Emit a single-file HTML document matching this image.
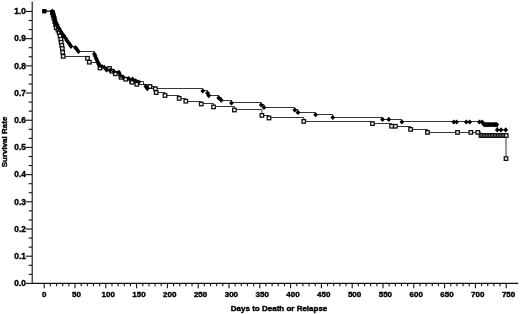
<!DOCTYPE html>
<html><head><meta charset="utf-8"><title>Survival Rate</title>
<style>html,body{margin:0;padding:0;background:#fff}svg{display:block}</style></head>
<body>
<svg width="520" height="314" viewBox="0 0 520 314">
<rect width="520" height="314" fill="#fff"/>
<g stroke="#111" stroke-width="1.1" fill="none">
<path d="M32.2 1.5 V283.4 H518.2"/>
<path d="M25.8 283.40 H32"/>
<path d="M28.7 274.33 H32"/>
<path d="M28.7 265.27 H32"/>
<path d="M25.8 256.20 H32"/>
<path d="M28.7 247.14 H32"/>
<path d="M28.7 238.07 H32"/>
<path d="M25.8 229.01 H32"/>
<path d="M28.7 219.94 H32"/>
<path d="M28.7 210.88 H32"/>
<path d="M25.8 201.81 H32"/>
<path d="M28.7 192.75 H32"/>
<path d="M28.7 183.69 H32"/>
<path d="M25.8 174.62 H32"/>
<path d="M28.7 165.55 H32"/>
<path d="M28.7 156.49 H32"/>
<path d="M25.8 147.42 H32"/>
<path d="M28.7 138.36 H32"/>
<path d="M28.7 129.29 H32"/>
<path d="M25.8 120.23 H32"/>
<path d="M28.7 111.16 H32"/>
<path d="M28.7 102.10 H32"/>
<path d="M25.8 93.03 H32"/>
<path d="M28.7 83.97 H32"/>
<path d="M28.7 74.91 H32"/>
<path d="M25.8 65.84 H32"/>
<path d="M28.7 56.77 H32"/>
<path d="M28.7 47.71 H32"/>
<path d="M25.8 38.64 H32"/>
<path d="M28.7 29.58 H32"/>
<path d="M28.7 20.51 H32"/>
<path d="M25.8 11.45 H32"/>
<path d="M44.20 283.4 V288.3"/>
<path d="M50.36 283.4 V286.2"/>
<path d="M56.52 283.4 V286.2"/>
<path d="M62.68 283.4 V286.2"/>
<path d="M68.84 283.4 V286.2"/>
<path d="M75.00 283.4 V288.3"/>
<path d="M81.16 283.4 V286.2"/>
<path d="M87.32 283.4 V286.2"/>
<path d="M93.48 283.4 V286.2"/>
<path d="M99.64 283.4 V286.2"/>
<path d="M105.80 283.4 V288.3"/>
<path d="M111.96 283.4 V286.2"/>
<path d="M118.12 283.4 V286.2"/>
<path d="M124.28 283.4 V286.2"/>
<path d="M130.44 283.4 V286.2"/>
<path d="M136.60 283.4 V288.3"/>
<path d="M142.76 283.4 V286.2"/>
<path d="M148.92 283.4 V286.2"/>
<path d="M155.08 283.4 V286.2"/>
<path d="M161.24 283.4 V286.2"/>
<path d="M167.40 283.4 V288.3"/>
<path d="M173.56 283.4 V286.2"/>
<path d="M179.72 283.4 V286.2"/>
<path d="M185.88 283.4 V286.2"/>
<path d="M192.04 283.4 V286.2"/>
<path d="M198.20 283.4 V288.3"/>
<path d="M204.36 283.4 V286.2"/>
<path d="M210.52 283.4 V286.2"/>
<path d="M216.68 283.4 V286.2"/>
<path d="M222.84 283.4 V286.2"/>
<path d="M229.00 283.4 V288.3"/>
<path d="M235.16 283.4 V286.2"/>
<path d="M241.32 283.4 V286.2"/>
<path d="M247.48 283.4 V286.2"/>
<path d="M253.64 283.4 V286.2"/>
<path d="M259.80 283.4 V288.3"/>
<path d="M265.96 283.4 V286.2"/>
<path d="M272.12 283.4 V286.2"/>
<path d="M278.28 283.4 V286.2"/>
<path d="M284.44 283.4 V286.2"/>
<path d="M290.60 283.4 V288.3"/>
<path d="M296.76 283.4 V286.2"/>
<path d="M302.92 283.4 V286.2"/>
<path d="M309.08 283.4 V286.2"/>
<path d="M315.24 283.4 V286.2"/>
<path d="M321.40 283.4 V288.3"/>
<path d="M327.56 283.4 V286.2"/>
<path d="M333.72 283.4 V286.2"/>
<path d="M339.88 283.4 V286.2"/>
<path d="M346.04 283.4 V286.2"/>
<path d="M352.20 283.4 V288.3"/>
<path d="M358.36 283.4 V286.2"/>
<path d="M364.52 283.4 V286.2"/>
<path d="M370.68 283.4 V286.2"/>
<path d="M376.84 283.4 V286.2"/>
<path d="M383.00 283.4 V288.3"/>
<path d="M389.16 283.4 V286.2"/>
<path d="M395.32 283.4 V286.2"/>
<path d="M401.48 283.4 V286.2"/>
<path d="M407.64 283.4 V286.2"/>
<path d="M413.80 283.4 V288.3"/>
<path d="M419.96 283.4 V286.2"/>
<path d="M426.12 283.4 V286.2"/>
<path d="M432.28 283.4 V286.2"/>
<path d="M438.44 283.4 V286.2"/>
<path d="M444.60 283.4 V288.3"/>
<path d="M450.76 283.4 V286.2"/>
<path d="M456.92 283.4 V286.2"/>
<path d="M463.08 283.4 V286.2"/>
<path d="M469.24 283.4 V286.2"/>
<path d="M475.40 283.4 V288.3"/>
<path d="M481.56 283.4 V286.2"/>
<path d="M487.72 283.4 V286.2"/>
<path d="M493.88 283.4 V286.2"/>
<path d="M500.04 283.4 V286.2"/>
<path d="M506.20 283.4 V288.3"/>
</g>
<g font-family="'Liberation Sans', Arial, Helvetica, sans-serif" font-weight="bold" font-size="8" fill="#000" stroke="#000" stroke-width="0.4" stroke-linejoin="round">
<text x="25.9" y="286.20" text-anchor="end" font-size="8.3">0.0</text>
<text x="25.9" y="259.00" text-anchor="end" font-size="8.3">0.1</text>
<text x="25.9" y="231.81" text-anchor="end" font-size="8.3">0.2</text>
<text x="25.9" y="204.62" text-anchor="end" font-size="8.3">0.3</text>
<text x="25.9" y="177.42" text-anchor="end" font-size="8.3">0.4</text>
<text x="25.9" y="150.22" text-anchor="end" font-size="8.3">0.5</text>
<text x="25.9" y="123.03" text-anchor="end" font-size="8.3">0.6</text>
<text x="25.9" y="95.83" text-anchor="end" font-size="8.3">0.7</text>
<text x="25.9" y="68.64" text-anchor="end" font-size="8.3">0.8</text>
<text x="25.9" y="41.45" text-anchor="end" font-size="8.3">0.9</text>
<text x="25.9" y="14.25" text-anchor="end" font-size="8.3">1.0</text>
<text x="44.30" y="297.2" text-anchor="middle">0</text>
<text x="76.40" y="297.2" text-anchor="middle">50</text>
<text x="108.20" y="297.2" text-anchor="middle">100</text>
<text x="139.00" y="297.2" text-anchor="middle">150</text>
<text x="169.80" y="297.2" text-anchor="middle">200</text>
<text x="200.60" y="297.2" text-anchor="middle">250</text>
<text x="231.40" y="297.2" text-anchor="middle">300</text>
<text x="262.20" y="297.2" text-anchor="middle">350</text>
<text x="293.00" y="297.2" text-anchor="middle">400</text>
<text x="323.80" y="297.2" text-anchor="middle">450</text>
<text x="354.60" y="297.2" text-anchor="middle">500</text>
<text x="385.40" y="297.2" text-anchor="middle">550</text>
<text x="416.20" y="297.2" text-anchor="middle">600</text>
<text x="447.00" y="297.2" text-anchor="middle">650</text>
<text x="477.80" y="297.2" text-anchor="middle">700</text>
<text x="508.60" y="297.2" text-anchor="middle">750</text>
<text x="279.1" y="311.2" text-anchor="middle">Days to Death or Relapse</text>
<text transform="translate(7.3 142) rotate(-90)" text-anchor="middle">Survival Rate</text>
</g>
<g stroke="#111" stroke-width="0.85" fill="none">
<path d="M44.3 11.2 H52.40 V12.50 H53.20 V15.50 H54.00 V18.50 H54.80 V21.50 H55.60 V24.50 H56.20 V27.50 H58.00 V30.50 H59.20 V32.50 H60.00 V35.50 H60.80 V39.50 H61.20 V42.50 H61.80 V45.50 H62.30 V48.50 H62.70 V52.50 H63.20 V56.50 H87.50 V58.50 H89.30 V62.50 H100.00 V67.50 H109.50 V68.50 H111.80 V71.50 H115.30 V73.50 H121.00 V77.50 H125.70 V79.50 H131.50 V81.50 H132.20 V82.50 H136.80 V84.50 H150.00 V86.50 H155.40 V88.50 H156.20 V92.50 H165.00 V95.50 H179.20 V98.50 H185.80 V101.50 H201.25 V103.50 H213.50 V106.50 H234.40 V109.50 H261.90 V115.50 H269.00 V117.50 H303.75 V121.50 H372.50 V123.50 H391.60 V126.50 H395.40 H410.60 V129.50 H427.50 V132.50 H457.50 H470.80 H477.80 H481.00 V135.50 H482.58 H484.16 H485.74 H487.32 H488.90 H490.48 H492.06 H493.64 H495.22 H496.80 H498.38 H499.96 H501.54 H503.12 H504.70 H506.28 H506.00 V158.50"/>
<path d="M44.3 11.2 H52.30 V11.50 H53.20 V13.50 H53.80 V15.50 H54.60 V17.50 H55.00 V19.50 H56.00 V22.50 H57.20 V24.50 H58.00 V26.50 H59.40 V28.50 H60.60 V31.50 H62.00 V33.50 H63.60 V35.50 H65.40 V37.50 H66.80 V40.50 H68.40 V42.50 H69.80 V44.50 H71.00 V46.50 H75.50 V47.50 H77.00 V49.50 H78.40 V51.50 H94.40 V53.50 H95.20 V55.50 H96.00 V57.50 H96.80 V59.50 H97.60 V61.50 H98.50 V63.50 H99.50 V65.50 H102.00 V66.50 H104.30 V67.50 H106.50 V69.50 H110.00 V70.50 H114.00 V71.50 H118.80 V72.50 H120.30 V75.50 H123.40 V77.50 H128.80 V78.50 H132.60 V79.50 H135.70 V80.50 H138.80 V81.50 H143.50 V84.50 H145.80 V86.50 H147.30 V88.50 H202.75 V90.50 H207.50 V92.50 H208.75 V95.50 H218.75 V97.50 H221.25 V100.50 H231.50 V102.50 H261.25 V104.50 H264.00 V107.50 H294.75 V109.50 H298.00 V112.50 H315.60 V114.50 H332.75 V117.50 H382.50 V119.50 H388.75 H401.90 V121.50 H453.75 H456.60 H466.25 H469.75 H479.40 H482.00 H484.00 V124.50 H485.16 H486.32 H487.48 H488.64 H489.80 H490.96 H492.12 H493.28 H494.44 H495.60 H496.76 H497.30 V129.50 H501.00 H505.70"/>
</g>
<g stroke="#111" stroke-width="1.3" fill="#fff">
<rect x="50.65" y="10.85" width="3.5" height="3.5" fill="#000"/>
<rect x="51.45" y="13.65" width="3.5" height="3.5" fill="#000"/>
<rect x="52.25" y="16.65" width="3.5" height="3.5" fill="#000"/>
<rect x="53.05" y="19.85" width="3.5" height="3.5" fill="#000"/>
<rect x="53.85" y="22.85" width="3.5" height="3.5" fill="#000"/>
<rect x="54.45" y="26.05" width="3.5" height="3.5"/>
<rect x="56.25" y="28.45" width="3.5" height="3.5"/>
<rect x="57.45" y="30.85" width="3.5" height="3.5"/>
<rect x="58.25" y="34.25" width="3.5" height="3.5"/>
<rect x="59.05" y="37.45" width="3.5" height="3.5"/>
<rect x="59.45" y="40.55" width="3.5" height="3.5"/>
<rect x="60.05" y="43.65" width="3.5" height="3.5"/>
<rect x="60.55" y="46.75" width="3.5" height="3.5"/>
<rect x="60.95" y="50.55" width="3.5" height="3.5"/>
<rect x="61.45" y="54.65" width="3.5" height="3.5"/>
<rect x="85.75" y="56.55" width="3.5" height="3.5"/>
<rect x="87.55" y="60.45" width="3.5" height="3.5"/>
<rect x="98.25" y="66.25" width="3.5" height="3.5"/>
<rect x="107.75" y="66.75" width="3.5" height="3.5"/>
<rect x="110.05" y="69.45" width="3.5" height="3.5"/>
<rect x="113.55" y="72.05" width="3.5" height="3.5"/>
<rect x="119.25" y="75.55" width="3.5" height="3.5"/>
<rect x="123.95" y="77.45" width="3.5" height="3.5"/>
<rect x="129.75" y="79.45" width="3.5" height="3.5"/>
<rect x="130.45" y="80.55" width="3.5" height="3.5"/>
<rect x="135.05" y="82.55" width="3.5" height="3.5"/>
<rect x="148.25" y="84.75" width="3.5" height="3.5"/>
<rect x="153.65" y="87.05" width="3.5" height="3.5"/>
<rect x="154.45" y="90.85" width="3.5" height="3.5"/>
<rect x="163.25" y="93.75" width="3.5" height="3.5"/>
<rect x="177.45" y="96.65" width="3.5" height="3.5"/>
<rect x="184.05" y="99.45" width="3.5" height="3.5"/>
<rect x="199.50" y="102.25" width="3.5" height="3.5"/>
<rect x="211.75" y="105.15" width="3.5" height="3.5"/>
<rect x="232.65" y="108.25" width="3.5" height="3.5"/>
<rect x="260.15" y="113.65" width="3.5" height="3.5"/>
<rect x="267.25" y="116.25" width="3.5" height="3.5"/>
<rect x="302.00" y="119.65" width="3.5" height="3.5"/>
<rect x="370.75" y="121.85" width="3.5" height="3.5"/>
<rect x="389.85" y="124.50" width="3.5" height="3.5"/>
<rect x="393.65" y="124.50" width="3.5" height="3.5"/>
<rect x="408.85" y="127.65" width="3.5" height="3.5"/>
<rect x="425.75" y="130.65" width="3.5" height="3.5"/>
<rect x="455.75" y="130.65" width="3.5" height="3.5"/>
<rect x="469.05" y="130.65" width="3.5" height="3.5"/>
<rect x="476.05" y="130.65" width="3.5" height="3.5"/>
<rect x="479.25" y="133.75" width="3.5" height="3.5"/>
<rect x="480.83" y="133.75" width="3.5" height="3.5"/>
<rect x="482.41" y="133.75" width="3.5" height="3.5"/>
<rect x="483.99" y="133.75" width="3.5" height="3.5"/>
<rect x="485.57" y="133.75" width="3.5" height="3.5"/>
<rect x="487.15" y="133.75" width="3.5" height="3.5"/>
<rect x="488.73" y="133.75" width="3.5" height="3.5"/>
<rect x="490.31" y="133.75" width="3.5" height="3.5"/>
<rect x="491.89" y="133.75" width="3.5" height="3.5"/>
<rect x="493.47" y="133.75" width="3.5" height="3.5"/>
<rect x="495.05" y="133.75" width="3.5" height="3.5"/>
<rect x="496.63" y="133.75" width="3.5" height="3.5"/>
<rect x="498.21" y="133.75" width="3.5" height="3.5"/>
<rect x="499.79" y="133.75" width="3.5" height="3.5"/>
<rect x="501.37" y="133.75" width="3.5" height="3.5"/>
<rect x="502.95" y="133.75" width="3.5" height="3.5"/>
<rect x="504.53" y="133.75" width="3.5" height="3.5"/>
<rect x="504.25" y="156.85" width="3.5" height="3.5"/>
</g>
<g fill="#000">
<path d="M49.90 11.20 L52.30 8.60 L54.70 11.20 L52.30 13.80Z"/>
<path d="M50.80 13.20 L53.20 10.60 L55.60 13.20 L53.20 15.80Z"/>
<path d="M51.40 15.60 L53.80 13.00 L56.20 15.60 L53.80 18.20Z"/>
<path d="M52.20 17.60 L54.60 15.00 L57.00 17.60 L54.60 20.20Z"/>
<path d="M52.60 20.00 L55.00 17.40 L57.40 20.00 L55.00 22.60Z"/>
<path d="M53.60 22.40 L56.00 19.80 L58.40 22.40 L56.00 25.00Z"/>
<path d="M54.80 24.60 L57.20 22.00 L59.60 24.60 L57.20 27.20Z"/>
<path d="M55.60 27.00 L58.00 24.40 L60.40 27.00 L58.00 29.60Z"/>
<path d="M57.00 29.00 L59.40 26.40 L61.80 29.00 L59.40 31.60Z"/>
<path d="M58.20 31.40 L60.60 28.80 L63.00 31.40 L60.60 34.00Z"/>
<path d="M59.60 33.60 L62.00 31.00 L64.40 33.60 L62.00 36.20Z"/>
<path d="M61.20 35.60 L63.60 33.00 L66.00 35.60 L63.60 38.20Z"/>
<path d="M63.00 38.00 L65.40 35.40 L67.80 38.00 L65.40 40.60Z"/>
<path d="M64.40 40.40 L66.80 37.80 L69.20 40.40 L66.80 43.00Z"/>
<path d="M66.00 42.40 L68.40 39.80 L70.80 42.40 L68.40 45.00Z"/>
<path d="M67.40 44.40 L69.80 41.80 L72.20 44.40 L69.80 47.00Z"/>
<path d="M68.60 46.30 L71.00 43.70 L73.40 46.30 L71.00 48.90Z"/>
<path d="M73.10 47.70 L75.50 45.10 L77.90 47.70 L75.50 50.30Z"/>
<path d="M74.60 49.50 L77.00 46.90 L79.40 49.50 L77.00 52.10Z"/>
<path d="M76.00 51.50 L78.40 48.90 L80.80 51.50 L78.40 54.10Z"/>
<path d="M92.00 54.00 L94.40 51.40 L96.80 54.00 L94.40 56.60Z"/>
<path d="M92.80 56.00 L95.20 53.40 L97.60 56.00 L95.20 58.60Z"/>
<path d="M93.60 58.00 L96.00 55.40 L98.40 58.00 L96.00 60.60Z"/>
<path d="M94.40 60.00 L96.80 57.40 L99.20 60.00 L96.80 62.60Z"/>
<path d="M95.20 62.00 L97.60 59.40 L100.00 62.00 L97.60 64.60Z"/>
<path d="M96.10 64.00 L98.50 61.40 L100.90 64.00 L98.50 66.60Z"/>
<path d="M97.10 65.50 L99.50 62.90 L101.90 65.50 L99.50 68.10Z"/>
<path d="M99.60 66.50 L102.00 63.90 L104.40 66.50 L102.00 69.10Z"/>
<path d="M101.90 67.30 L104.30 64.70 L106.70 67.30 L104.30 69.90Z"/>
<path d="M104.10 70.00 L106.50 67.40 L108.90 70.00 L106.50 72.60Z"/>
<path d="M107.60 70.50 L110.00 67.90 L112.40 70.50 L110.00 73.10Z"/>
<path d="M111.60 71.50 L114.00 68.90 L116.40 71.50 L114.00 74.10Z"/>
<path d="M116.40 72.30 L118.80 69.70 L121.20 72.30 L118.80 74.90Z"/>
<path d="M117.90 75.40 L120.30 72.80 L122.70 75.40 L120.30 78.00Z"/>
<path d="M121.00 77.30 L123.40 74.70 L125.80 77.30 L123.40 79.90Z"/>
<path d="M126.40 78.50 L128.80 75.90 L131.20 78.50 L128.80 81.10Z"/>
<path d="M130.20 79.20 L132.60 76.60 L135.00 79.20 L132.60 81.80Z"/>
<path d="M133.30 80.80 L135.70 78.20 L138.10 80.80 L135.70 83.40Z"/>
<path d="M136.40 82.00 L138.80 79.40 L141.20 82.00 L138.80 84.60Z"/>
<path d="M143.40 86.50 L145.80 83.90 L148.20 86.50 L145.80 89.10Z"/>
<path d="M144.90 88.60 L147.30 86.00 L149.70 88.60 L147.30 91.20Z"/>
<path d="M200.35 91.00 L202.75 88.40 L205.15 91.00 L202.75 93.60Z"/>
<path d="M205.10 93.10 L207.50 90.50 L209.90 93.10 L207.50 95.70Z"/>
<path d="M206.35 95.60 L208.75 93.00 L211.15 95.60 L208.75 98.20Z"/>
<path d="M216.35 97.90 L218.75 95.30 L221.15 97.90 L218.75 100.50Z"/>
<path d="M218.85 100.25 L221.25 97.65 L223.65 100.25 L221.25 102.85Z"/>
<path d="M229.10 102.90 L231.50 100.30 L233.90 102.90 L231.50 105.50Z"/>
<path d="M258.85 105.00 L261.25 102.40 L263.65 105.00 L261.25 107.60Z"/>
<path d="M261.60 107.50 L264.00 104.90 L266.40 107.50 L264.00 110.10Z"/>
<path d="M292.35 110.00 L294.75 107.40 L297.15 110.00 L294.75 112.60Z"/>
<path d="M295.60 112.50 L298.00 109.90 L300.40 112.50 L298.00 115.10Z"/>
<path d="M313.20 114.75 L315.60 112.15 L318.00 114.75 L315.60 117.35Z"/>
<path d="M330.35 117.50 L332.75 114.90 L335.15 117.50 L332.75 120.10Z"/>
<path d="M380.10 119.40 L382.50 116.80 L384.90 119.40 L382.50 122.00Z"/>
<path d="M386.35 119.40 L388.75 116.80 L391.15 119.40 L388.75 122.00Z"/>
<path d="M399.50 122.00 L401.90 119.40 L404.30 122.00 L401.90 124.60Z"/>
<path d="M451.35 122.00 L453.75 119.40 L456.15 122.00 L453.75 124.60Z"/>
<path d="M454.20 122.00 L456.60 119.40 L459.00 122.00 L456.60 124.60Z"/>
<path d="M463.85 122.00 L466.25 119.40 L468.65 122.00 L466.25 124.60Z"/>
<path d="M467.35 122.00 L469.75 119.40 L472.15 122.00 L469.75 124.60Z"/>
<path d="M477.00 122.00 L479.40 119.40 L481.80 122.00 L479.40 124.60Z"/>
<path d="M479.60 122.00 L482.00 119.40 L484.40 122.00 L482.00 124.60Z"/>
<path d="M481.60 124.60 L484.00 122.00 L486.40 124.60 L484.00 127.20Z"/>
<path d="M482.76 124.60 L485.16 122.00 L487.56 124.60 L485.16 127.20Z"/>
<path d="M483.92 124.60 L486.32 122.00 L488.72 124.60 L486.32 127.20Z"/>
<path d="M485.08 124.60 L487.48 122.00 L489.88 124.60 L487.48 127.20Z"/>
<path d="M486.24 124.60 L488.64 122.00 L491.04 124.60 L488.64 127.20Z"/>
<path d="M487.40 124.60 L489.80 122.00 L492.20 124.60 L489.80 127.20Z"/>
<path d="M488.56 124.60 L490.96 122.00 L493.36 124.60 L490.96 127.20Z"/>
<path d="M489.72 124.60 L492.12 122.00 L494.52 124.60 L492.12 127.20Z"/>
<path d="M490.88 124.60 L493.28 122.00 L495.68 124.60 L493.28 127.20Z"/>
<path d="M492.04 124.60 L494.44 122.00 L496.84 124.60 L494.44 127.20Z"/>
<path d="M493.20 124.60 L495.60 122.00 L498.00 124.60 L495.60 127.20Z"/>
<path d="M494.36 124.60 L496.76 122.00 L499.16 124.60 L496.76 127.20Z"/>
<path d="M494.90 129.90 L497.30 127.30 L499.70 129.90 L497.30 132.50Z"/>
<path d="M498.60 129.90 L501.00 127.30 L503.40 129.90 L501.00 132.50Z"/>
<path d="M503.30 129.90 L505.70 127.30 L508.10 129.90 L505.70 132.50Z"/>
<rect x="42.1" y="9" width="4.4" height="4.4"/>
</g>
</svg>
</body></html>
